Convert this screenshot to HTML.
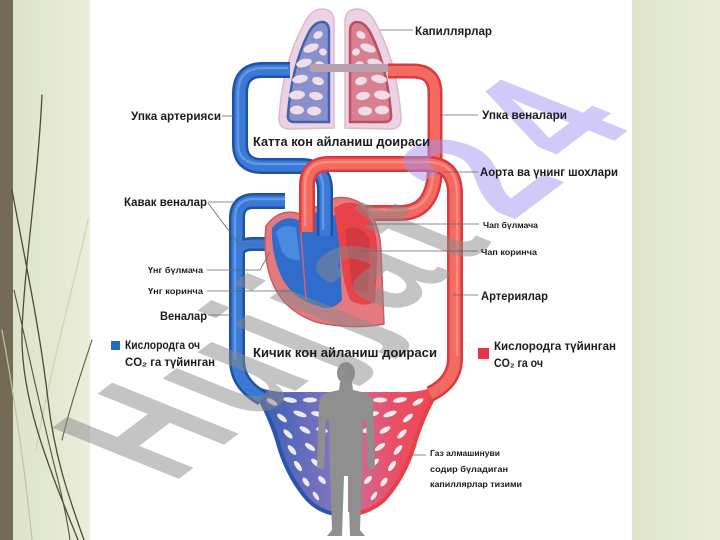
<!DOCTYPE html>
<html><head><meta charset="utf-8">
<style>
html,body{margin:0;padding:0;}
body{width:720px;height:540px;overflow:hidden;background:#fff;}
svg{display:block}
text{font-family:"Liberation Sans","DejaVu Sans",sans-serif;font-weight:bold;fill:#1b1b1b;}
</style></head><body>
<svg width="720" height="540" viewBox="0 0 720 540" xmlns="http://www.w3.org/2000/svg">
<defs>
 <linearGradient id="gl" x1="0" x2="1"><stop offset="0" stop-color="#dde3c8"/><stop offset="1" stop-color="#e9eddb"/></linearGradient>
 <linearGradient id="gr" x1="0" x2="1"><stop offset="0" stop-color="#dfe5ca"/><stop offset="1" stop-color="#e9eddb"/></linearGradient>
 <linearGradient id="bf" x1="0" x2="1"><stop offset="0" stop-color="#2d5bb4"/><stop offset="1" stop-color="#8a78c0"/></linearGradient>
 <linearGradient id="rf" x1="0" x2="1"><stop offset="0" stop-color="#c9709e"/><stop offset="0.45" stop-color="#e8506a"/><stop offset="1" stop-color="#f04646"/></linearGradient>
</defs>
<rect width="720" height="540" fill="#fff"/>
<rect x="0" y="0" width="13" height="540" fill="#746b57"/>
<rect x="13" y="0" width="77" height="540" fill="url(#gl)"/>
<rect x="632" y="0" width="88" height="540" fill="url(#gr)"/>

<!-- grass blades -->
<g fill="none" stroke-linecap="round">
 <path d="M88 220 C70 300 48 380 36 450" stroke="#cdd1b3" stroke-width="1.2"/>
 <path d="M2 330 C15 400 25 470 32 540" stroke="#bfc3a4" stroke-width="1.2"/>
 <path d="M42 95 C38 180 25 260 22 330 C20 400 50 470 78 540" stroke="#4e4c33" stroke-width="1.3"/>
 <path d="M12 190 C25 260 40 330 48 400 C55 460 70 500 84 540" stroke="#4e4c33" stroke-width="1.3"/>
 <path d="M14 290 C30 360 45 430 58 480 C64 505 68 525 70 540" stroke="#55533a" stroke-width="1.1"/>
 <path d="M92 340 C82 370 72 400 62 440" stroke="#5e5c40" stroke-width="1.1"/>
</g>

<!-- lungs -->
<path d="M322 9 Q334 9 334 22 L334 128 L290 129 Q278 129 279 117 Q283 62 304 24 Q311 9 322 9Z" fill="#ecd3e3" stroke="#dcb8cf" stroke-width="1.5"/>
<path d="M357 9 Q345 9 345 22 L345 128 L390 129 Q402 129 401 117 Q397 62 376 24 Q369 9 357 9Z" fill="#ecd3e3" stroke="#dcb8cf" stroke-width="1.5"/>
<path d="M322 22 Q329 22 329 32 L329 122 L294 122 Q287 122 288 114 Q292 66 308 34 Q314 22 322 22Z" fill="#8a90cc" stroke="#4262ae" stroke-width="2.5"/>
<path d="M357 22 Q350 22 350 32 L350 122 L385 122 Q392 122 391 114 Q387 66 371 34 Q365 22 357 22Z" fill="#d78090" stroke="#c04c62" stroke-width="2.5"/>
<g fill="#efdde9">
 <ellipse cx="318" cy="35" rx="5" ry="3.5" transform="rotate(-30 318 35)"/>
 <ellipse cx="311" cy="48" rx="8" ry="4" transform="rotate(-20 311 48)"/>
 <ellipse cx="323" cy="52" rx="4" ry="3.5" transform="rotate(30 323 52)"/>
 <ellipse cx="304" cy="63" rx="8" ry="4" transform="rotate(-15 304 63)"/>
 <ellipse cx="320" cy="65" rx="5" ry="3.5" transform="rotate(20 320 65)"/>
 <ellipse cx="300" cy="79" rx="8" ry="4" transform="rotate(-10 300 79)"/>
 <ellipse cx="318" cy="81" rx="6" ry="4" transform="rotate(15 318 81)"/>
 <ellipse cx="297" cy="95" rx="8" ry="4.5" transform="rotate(-5 297 95)"/>
 <ellipse cx="316" cy="96" rx="7" ry="4" transform="rotate(10 316 96)"/>
 <ellipse cx="297" cy="110" rx="7" ry="4.5"/>
 <ellipse cx="314" cy="111" rx="7" ry="4.5"/>
 <ellipse cx="361" cy="35" rx="5" ry="3.5" transform="rotate(30 361 35)"/>
 <ellipse cx="368" cy="48" rx="8" ry="4" transform="rotate(20 368 48)"/>
 <ellipse cx="356" cy="52" rx="4" ry="3.5" transform="rotate(-30 356 52)"/>
 <ellipse cx="375" cy="63" rx="8" ry="4" transform="rotate(15 375 63)"/>
 <ellipse cx="359" cy="65" rx="5" ry="3.5" transform="rotate(-20 359 65)"/>
 <ellipse cx="379" cy="79" rx="8" ry="4" transform="rotate(10 379 79)"/>
 <ellipse cx="361" cy="81" rx="6" ry="4" transform="rotate(-15 361 81)"/>
 <ellipse cx="382" cy="95" rx="8" ry="4.5" transform="rotate(5 382 95)"/>
 <ellipse cx="363" cy="96" rx="7" ry="4" transform="rotate(-10 363 96)"/>
 <ellipse cx="382" cy="110" rx="7" ry="4.5"/>
 <ellipse cx="365" cy="111" rx="7" ry="4.5"/>
</g>
<rect x="310" y="64" width="80" height="8" rx="2" fill="#b89fae"/>

<!-- capillary fans -->
<path d="M248 380 Q262 393 292 392 L342 392 L342 512 Q322 514 308 500 Q290 480 280 450 Q270 412 248 380Z" fill="url(#bf)"/>
<path d="M446 378 Q432 393 400 392 L348 392 L348 512 Q368 514 384 500 Q404 478 414 446 Q424 410 446 378Z" fill="url(#rf)"/>
<g fill="#eeeaf5">
 <ellipse cx="272" cy="402" rx="6" ry="2.5" transform="rotate(30 272 402)"/>
 <ellipse cx="290" cy="400" rx="7" ry="2.5" transform="rotate(10 290 400)"/>
 <ellipse cx="310" cy="400" rx="7" ry="2.5"/>
 <ellipse cx="328" cy="401" rx="5" ry="2.5"/>
 <ellipse cx="282" cy="418" rx="6" ry="2.5" transform="rotate(40 282 418)"/>
 <ellipse cx="300" cy="414" rx="7" ry="2.5" transform="rotate(20 300 414)"/>
 <ellipse cx="318" cy="414" rx="7" ry="2.5" transform="rotate(10 318 414)"/>
 <ellipse cx="288" cy="434" rx="6" ry="2.5" transform="rotate(45 288 434)"/>
 <ellipse cx="305" cy="430" rx="6" ry="2.5" transform="rotate(30 305 430)"/>
 <ellipse cx="322" cy="430" rx="6" ry="2.5" transform="rotate(15 322 430)"/>
 <ellipse cx="292" cy="450" rx="6" ry="2.5" transform="rotate(50 292 450)"/>
 <ellipse cx="310" cy="447" rx="6" ry="2.5" transform="rotate(35 310 447)"/>
 <ellipse cx="298" cy="466" rx="6" ry="2.5" transform="rotate(55 298 466)"/>
 <ellipse cx="316" cy="463" rx="6" ry="2.5" transform="rotate(40 316 463)"/>
 <ellipse cx="306" cy="482" rx="5" ry="2.5" transform="rotate(55 306 482)"/>
 <ellipse cx="322" cy="480" rx="5" ry="2.5" transform="rotate(45 322 480)"/>
 <ellipse cx="316" cy="496" rx="5" ry="2" transform="rotate(55 316 496)"/>
</g>
<g fill="#fbecef">
 <ellipse cx="418" cy="402" rx="6" ry="2.5" transform="rotate(-30 418 402)"/>
 <ellipse cx="400" cy="400" rx="7" ry="2.5" transform="rotate(-10 400 400)"/>
 <ellipse cx="380" cy="400" rx="7" ry="2.5"/>
 <ellipse cx="362" cy="401" rx="5" ry="2.5"/>
 <ellipse cx="408" cy="418" rx="6" ry="2.5" transform="rotate(-40 408 418)"/>
 <ellipse cx="390" cy="414" rx="7" ry="2.5" transform="rotate(-20 390 414)"/>
 <ellipse cx="372" cy="414" rx="7" ry="2.5" transform="rotate(-10 372 414)"/>
 <ellipse cx="402" cy="434" rx="6" ry="2.5" transform="rotate(-45 402 434)"/>
 <ellipse cx="385" cy="430" rx="6" ry="2.5" transform="rotate(-30 385 430)"/>
 <ellipse cx="368" cy="430" rx="6" ry="2.5" transform="rotate(-15 368 430)"/>
 <ellipse cx="398" cy="450" rx="6" ry="2.5" transform="rotate(-50 398 450)"/>
 <ellipse cx="380" cy="447" rx="6" ry="2.5" transform="rotate(-35 380 447)"/>
 <ellipse cx="392" cy="466" rx="6" ry="2.5" transform="rotate(-55 392 466)"/>
 <ellipse cx="374" cy="463" rx="6" ry="2.5" transform="rotate(-40 374 463)"/>
 <ellipse cx="384" cy="482" rx="5" ry="2.5" transform="rotate(-55 384 482)"/>
 <ellipse cx="368" cy="480" rx="5" ry="2.5" transform="rotate(-45 368 480)"/>
 <ellipse cx="374" cy="496" rx="5" ry="2" transform="rotate(-55 374 496)"/>
</g>
<path d="M248 380 Q270 412 280 450 Q290 480 308 500 Q320 512 336 514" fill="none" stroke="#2a55ad" stroke-width="4"/>
<path d="M446 378 Q424 410 414 446 Q404 478 384 500 Q370 512 354 514" fill="none" stroke="#e8404a" stroke-width="4"/>

<!-- vena cava (blue) -->
<g fill="none" stroke-linecap="butt">
 <path d="M285 201 L254 201 Q237 201 237 218 L237 360 Q237 384 262 398" stroke="#1f52a6" stroke-width="16"/>
 <path d="M237 258 Q237 244 252 244 L282 244" stroke="#1f52a6" stroke-width="14"/>
 <path d="M285 201 L254 201 Q237 201 237 218 L237 360 Q237 384 262 398" stroke="#3a7ad4" stroke-width="11"/>
 <path d="M237 258 Q237 244 252 244 L282 244" stroke="#3a7ad4" stroke-width="9"/>
 <path d="M285 199 L254 199 Q235 199 235 218 L235 360" stroke="#78aef0" stroke-width="2.5" opacity="0.6"/>
 <!-- pulmonary vein into heart (red) -->
 <path d="M435 160 Q437 213 400 213 L352 213" stroke="#dc3a3e" stroke-width="16"/>
 <path d="M435 160 Q437 213 400 213 L352 213" stroke="#f26a60" stroke-width="11"/>
 <path d="M433 170 Q433 210 400 210 L355 210" stroke="#ffa196" stroke-width="2.5" opacity="0.6"/>
</g>

<!-- heart -->
<path d="M266 226 Q280 207 300 214 L318 206 Q340 190 362 204 Q380 220 381 252 L384 324 Q350 330 316 322 Q288 312 276 290 Q262 264 266 226Z" fill="#e47a80" stroke="#c85a66" stroke-width="1.5"/>
<path d="M272 228 Q284 214 298 220 L313 212 L338 216 L342 300 Q332 312 318 306 Q295 300 283 280 Q271 256 272 228Z" fill="#2f6ccc"/>
<path d="M276 232 Q285 222 296 228 L300 260 Q290 262 282 252 Z" fill="#4a8ae0"/>
<path d="M334 208 Q352 196 366 210 Q379 230 377 262 L375 302 Q362 308 350 300 Q342 280 340 250Z" fill="#e9434a"/>
<path d="M345 230 Q360 222 370 240 L368 290 Q358 296 352 285 Z" fill="#c8343c" opacity="0.7"/>
<path d="M300 222 L306 300" stroke="#d86070" stroke-width="1.5" fill="none"/>

<!-- great vessels -->
<g fill="none">
 <path d="M325 236 L325 190 Q325 166 301 166 L262 166 Q240 166 240 144 L240 94 Q240 70 262 70 L290 70" stroke="#1f52a6" stroke-width="16"/>
 <path d="M325 236 L325 190 Q325 166 301 166 L262 166 Q240 166 240 144 L240 94 Q240 70 262 70 L290 70" stroke="#3a7ad4" stroke-width="11"/>
 <path d="M323 230 L323 190 Q323 164 301 164 L262 164 Q238 164 238 144 L238 94 Q238 68 262 68 L288 68" stroke="#78aef0" stroke-width="2.5" opacity="0.6"/>
 <path d="M388 71 L413 71 Q435 71 435 93 L435 164" stroke="#dc3a3e" stroke-width="15"/>
 <path d="M388 71 L413 71 Q435 71 435 93 L435 164" stroke="#f26a60" stroke-width="10"/>
 <path d="M307 232 L307 186 Q307 164 329 164 L427 164 Q455 164 455 194 L455 358 Q455 382 430 394" stroke="#dc3a3e" stroke-width="16"/>
 <path d="M307 232 L307 186 Q307 164 329 164 L427 164 Q455 164 455 194 L455 358 Q455 382 430 394" stroke="#f26a60" stroke-width="11"/>
 <path d="M305 226 L305 186 Q305 162 329 162 L427 162 Q457 162 457 194 L457 356" stroke="#ffa196" stroke-width="2.5" opacity="0.6"/>
</g>

<!-- human silhouette -->
<ellipse cx="346" cy="373" rx="9" ry="11" fill="#8f8f8f"/>
<path d="M340 382 L352 382 L353 390 L366 393 Q373 396 373 405 L375 468 L368 470 L366 420 L363 420 L362 470 L360 530 L365 536 L350 536 L348 476 L344 476 L342 536 L327 536 L332 530 L330 470 L329 420 L326 420 L324 470 L317 468 L319 405 Q319 396 326 393 L339 390Z" fill="#8f8f8f"/>

<!-- watermark -->
<g transform="translate(172,484) rotate(-37) skewX(31) scale(0.75,1)" opacity="0.5">
 <text x="0 136 253 313 373 481" y="0" font-size="170" style="fill:#8a8a8a">Hujjat</text>
 <text x="576 697" y="-5 -8" font-size="170" style="fill:#a494f2">24</text>
</g>

<!-- leader lines -->
<g stroke="#666" stroke-width="0.8" fill="none">
 <path d="M380 30 L413 30"/>
 <path d="M222 116 L236 116"/>
 <path d="M440 115 L478 115"/>
 <path d="M443 172 L478 172"/>
 <path d="M208 202 L233 202 M208 203 L238 243 L262 246"/>
 <path d="M367 224 L479 224"/>
 <path d="M360 251 L478 251"/>
 <path d="M207 270 L260 270 L270 252"/>
 <path d="M207 291 L296 291"/>
 <path d="M208 315 L232 315"/>
 <path d="M453 295 L478 295"/>
 <path d="M410 455 L426 455"/>
</g>

<!-- labels -->
<text x="415" y="35" font-size="11.5" textLength="77" lengthAdjust="spacingAndGlyphs">Капиллярлар</text>
<text x="131" y="120" font-size="11.5" textLength="90" lengthAdjust="spacingAndGlyphs">Упка артерияси</text>
<text x="482" y="119" font-size="11.5" textLength="85" lengthAdjust="spacingAndGlyphs">Упка веналари</text>
<text x="253" y="146" font-size="12.5" textLength="177" lengthAdjust="spacingAndGlyphs">Катта кон айланиш доираси</text>
<text x="480" y="176" font-size="11.5" textLength="138" lengthAdjust="spacingAndGlyphs">Аорта ва үнинг шохлари</text>
<text x="124" y="206" font-size="11.5" textLength="83" lengthAdjust="spacingAndGlyphs">Кавак веналар</text>
<text x="483" y="228" font-size="8.5" textLength="55" lengthAdjust="spacingAndGlyphs">Чап бүлмача</text>
<text x="481" y="255" font-size="8.5" textLength="56" lengthAdjust="spacingAndGlyphs">Чап коринча</text>
<text x="148" y="273" font-size="8.5" textLength="55" lengthAdjust="spacingAndGlyphs">Үнг бүлмача</text>
<text x="148" y="294" font-size="8.5" textLength="55" lengthAdjust="spacingAndGlyphs">Үнг коринча</text>
<text x="481" y="300" font-size="11.5" textLength="67" lengthAdjust="spacingAndGlyphs">Артериялар</text>
<text x="160" y="320" font-size="11.5" textLength="47" lengthAdjust="spacingAndGlyphs">Веналар</text>
<rect x="111" y="341" width="9" height="9" fill="#1a6fc0"/>
<text x="125" y="349" font-size="11.5" textLength="75" lengthAdjust="spacingAndGlyphs">Кислородга оч</text>
<text x="125" y="366" font-size="11.5" textLength="90" lengthAdjust="spacingAndGlyphs">CO₂ га түйинган</text>
<text x="253" y="357" font-size="12.5" textLength="184" lengthAdjust="spacingAndGlyphs">Кичик кон айланиш доираси</text>
<rect x="478" y="348" width="11" height="11" fill="#e8344a"/>
<text x="494" y="350" font-size="11.5" textLength="122" lengthAdjust="spacingAndGlyphs">Кислородга түйинган</text>
<text x="494" y="367" font-size="11.5" textLength="49" lengthAdjust="spacingAndGlyphs">CO₂ га оч</text>
<text x="430" y="456" font-size="8" textLength="70" lengthAdjust="spacingAndGlyphs">Газ алмашинуви</text>
<text x="430" y="472" font-size="8" textLength="78" lengthAdjust="spacingAndGlyphs">содир бүладиган</text>
<text x="430" y="487" font-size="8" textLength="92" lengthAdjust="spacingAndGlyphs">капиллярлар тизими</text>
</svg>
</body></html>
